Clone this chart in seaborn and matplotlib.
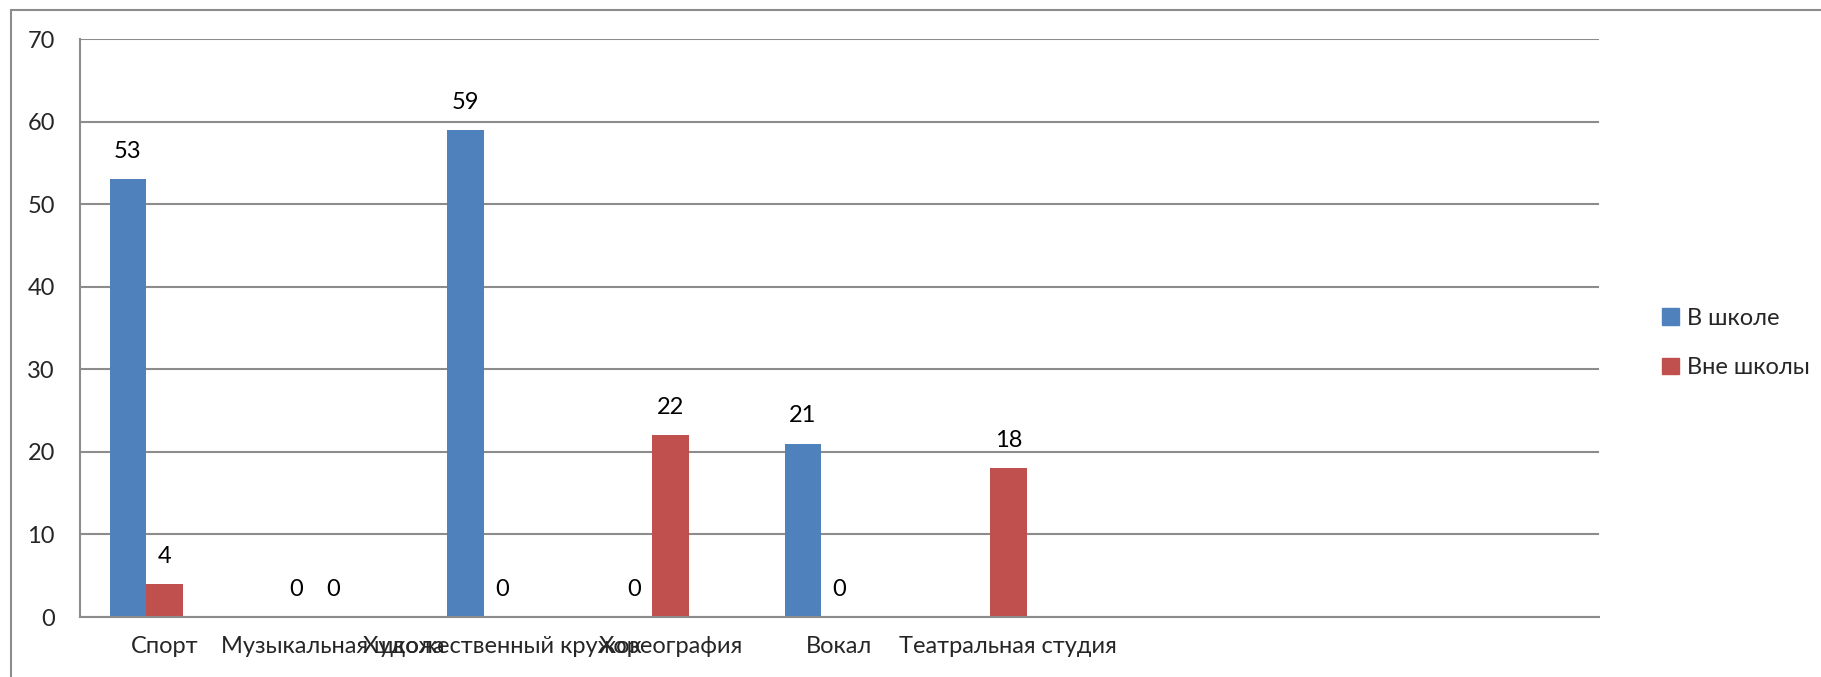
import matplotlib.pyplot as plt
import matplotlib.patches as mpatches
import seaborn as sns
import pandas as pd
import numpy as np

# Data
categories = ['Спорт', 'Музыкальная школа', 'Художественный кружок', 'Хореография',
              'Вокал', 'Театральная студия', ' ', '  ', '   ']
in_school = [53, 0, 59, 0, 21, np.nan, np.nan, np.nan, np.nan]
out_school = [4, 0, 0, 22, 0, 18, np.nan, np.nan, np.nan]
series_names = ['В школе', 'Вне школы', '_empty']
colors = ['#4F81BD', '#C0504D', '#9BBB59']

df = pd.DataFrame({
    'category': categories * 2,
    'series': [series_names[0]] * len(categories) + [series_names[1]] * len(categories),
    'value': in_school + out_school,
})

sns.set_style('white')
plt.rcParams['font.family'] = ['Lato', 'DejaVu Sans']
FS = 17
grid_col = '#8c8c8c'

fig = plt.figure(figsize=(18.21, 6.77), dpi=100)
ax = fig.add_axes([80 / 1821, 1 - 617 / 677, (1599 - 80) / 1821, (617 - 39) / 677])

sns.barplot(data=df, x='category', y='value', hue='series', hue_order=series_names,
            order=categories, palette=colors, width=0.65, linewidth=0, saturation=1,
            legend=False, errorbar=None, ax=ax)

# data labels
for cont, name in zip(ax.containers, series_names[:2]):
    for bar in cont:
        h = bar.get_height()
        if np.isnan(h):
            continue
        ax.annotate(f'{int(h)}', (bar.get_x() + bar.get_width() / 2, h),
                    xytext=(0, 20), textcoords='offset points',
                    ha='center', va='center', fontsize=FS, color='black')

ax.set_ylim(0, 70)
ax.set_xlim(-0.5, len(categories) - 0.5)
ax.set_yticks(range(0, 71, 10))
ax.yaxis.grid(True, color=grid_col, linewidth=1.5)
ax.set_axisbelow(True)

# Excel style category axis: ticks between categories, labels centred
ax.set_xticks(np.arange(-0.5, len(categories), 1.0))
ax.set_xticklabels([])
ax.set_xticks(np.arange(len(categories)), minor=True)
ax.set_xticklabels(categories, minor=True, fontsize=FS)
ax.tick_params(axis='x', which='minor', length=0, pad=14)
ax.tick_params(axis='x', which='major', length=6, width=1.5, color=grid_col, direction='out')
ax.tick_params(axis='y', length=6, width=1.5, color=grid_col, direction='out',
               labelsize=FS, pad=12)
ax.set_xlabel('')
ax.set_ylabel('')

for s in ['top', 'right']:
    ax.spines[s].set_visible(False)
for s in ['left', 'bottom']:
    ax.spines[s].set_color(grid_col)
    ax.spines[s].set_linewidth(1.5)

handles = [mpatches.Patch(color=colors[0], label=series_names[0]),
           mpatches.Patch(color=colors[1], label=series_names[1])]
fig.legend(handles=handles, loc='center left', bbox_to_anchor=(1641 / 1821, 1 - 343 / 677),
           frameon=False, fontsize=FS, handlelength=0.7, handleheight=0.7,
           handletextpad=0.35, labelspacing=1.2)

# outer chart frame (cut at the right and bottom edges)
frame = mpatches.Rectangle((11 / 1821, -0.1), 1.2, 1.1 - 10 / 677, transform=fig.transFigure,
                           fill=False, edgecolor=grid_col, linewidth=1.5)
fig.patches.append(frame)

plt.savefig('out.png', dpi=100)
